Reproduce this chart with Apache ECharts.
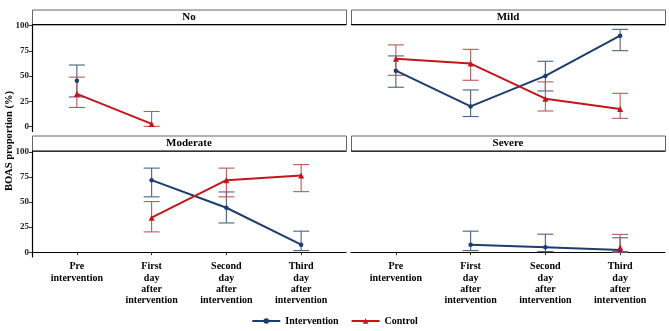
<!DOCTYPE html>
<html style="height: 100%">
<head>
    <meta charset="utf-8">
    <script src="https://cdn.jsdelivr.net/npm/echarts@6/dist/echarts.min.js"></script>
</head>
<body style="height: 100%; width: 100%; margin: 0; background-color: #ffffff;">
    <div id="container" style="width: 669px; height: 331px;"></div>
    <script type="text/javascript">
        // facets and categories
        var panels = ['No', 'Mild', 'Moderate', 'Severe'];
        var categories = ['Pre\nintervention', 'First\nday\nafter\nintervention', 'Second\nday\nafter\nintervention', 'Third\nday\nafter\nintervention'];
        var yTicks = [0, 25, 50, 75, 100];

        // one row per panel (No, Mild, Moderate, Severe), one column per category
        var interventionMean = [[45.5, null, null, null], [55.4, 20, 50.2, 90], [null, 72, 44.4, 7.5], [null, 7.5, 5, 2.3]];
        var interventionLow = [[29.4, null, null, null], [39, 10, 35.3, 75.2], [null, 55.3, 29.2, 1.6], [null, 1.6, 0.6, 0.6]];
        var interventionHigh = [[61, null, null, null], [70, 36.3, 64.7, 96.3], [null, 84, 60.2, 21], [null, 21, 18, 14.4]];

        var controlMean = [[32.4, 2.7, null, null], [67.3, 62.4, 27.7, 17.5], [null, 34.5, 72, 76.6], [null, null, null, 4.6]];
        var controlLow = [[19, 0.3, null, null], [50.8, 45.9, 15.5, 8.2], [null, 20.3, 55.3, 60.5], [null, null, null, 0]];
        var controlHigh = [[49, 15, null, null], [80.9, 76.5, 44.3, 33], [null, 50.6, 84, 87.5], [null, null, null, 17.8]];

        var blue = '#1c3d6e', red = '#c4141c';
        var blueBar = '#4a6282', redBar = '#b85a5a';
        var font = 'Liberation Serif';

        var cols = [32, 351];
        var panelW = 314;
        var rows = [{ top: 24.5, height: 107 }, { top: 151, height: 106 }];

        var dom = document.getElementById('container');
        var myChart = echarts.init(dom);

        var grids = [], xAxes = [], yAxes = [], series = [], graphics = [];

        function points(vals) {
            var arr = [];
            for (var i = 0; i < vals.length; i++) {
                if (vals[i] != null) arr.push([i + 1, vals[i]]);
            }
            return arr;
        }
        function bars(lo, hi) {
            var arr = [];
            for (var i = 0; i < lo.length; i++) {
                if (lo[i] != null) arr.push([i + 1, lo[i], hi[i]]);
            }
            return arr;
        }
        function errorBar(color) {
            return function (params, api) {
                var x = api.value(0);
                var p1 = api.coord([x, api.value(1)]);
                var p2 = api.coord([x, api.value(2)]);
                var hw = 8;
                var st = { stroke: color, lineWidth: 1.1 };
                return {
                    type: 'group',
                    children: [
                        { type: 'line', shape: { x1: p1[0], y1: p1[1], x2: p2[0], y2: p2[1] }, style: st },
                        { type: 'line', shape: { x1: p1[0] - hw, y1: p1[1], x2: p1[0] + hw, y2: p1[1] }, style: st },
                        { type: 'line', shape: { x1: p2[0] - hw, y1: p2[1], x2: p2[0] + hw, y2: p2[1] }, style: st }
                    ]
                };
            };
        }

        for (var p = 0; p < 4; p++) {
            var r = Math.floor(p / 2), c = p % 2;
            var isBottom = r === 1, isLeft = c === 0;
            grids.push({ left: cols[c], top: rows[r].top, width: panelW, height: rows[r].height });
            xAxes.push({
                gridIndex: p, type: 'value', min: 0.4, max: 4.6,
                show: isBottom,
                splitLine: { show: false },
                axisLine: { lineStyle: { color: '#000', width: 1.2 } },
                axisTick: { length: 3, customValues: [1, 2, 3, 4], lineStyle: { color: '#333' } },
                axisLabel: {
                    customValues: [1, 2, 3, 4],
                    formatter: function (v) { return categories[Math.round(v) - 1]; },
                    fontFamily: font, fontWeight: 'bold', fontSize: 10, color: '#000',
                    lineHeight: 11.4, margin: 4
                }
            });
            yAxes.push({
                gridIndex: p, type: 'value', min: -4.8, max: 101.1,
                show: isLeft,
                splitLine: { show: false },
                axisLine: { show: true, lineStyle: { color: '#000', width: 1.2 } },
                axisTick: { show: true, length: 3, customValues: yTicks, lineStyle: { color: '#333' } },
                axisLabel: {
                    customValues: yTicks,
                    fontFamily: font, fontWeight: 'bold', fontSize: 9, color: '#222', margin: 3
                }
            });

            series.push({
                type: 'custom', name: 'Intervention error', xAxisIndex: p, yAxisIndex: p,
                renderItem: errorBar(blueBar), encode: { x: 0, y: [1, 2] },
                data: bars(interventionLow[p], interventionHigh[p]), z: 2
            });
            series.push({
                type: 'custom', name: 'Control error', xAxisIndex: p, yAxisIndex: p,
                renderItem: errorBar(redBar), encode: { x: 0, y: [1, 2] },
                data: bars(controlLow[p], controlHigh[p]), z: 2
            });
            series.push({
                type: 'line', name: 'Intervention', xAxisIndex: p, yAxisIndex: p,
                data: points(interventionMean[p]),
                symbol: 'circle', symbolSize: 4.5, showAllSymbol: true,
                lineStyle: { color: blue, width: 2 }, itemStyle: { color: blue },
                z: 3
            });
            series.push({
                type: 'line', name: 'Control', xAxisIndex: p, yAxisIndex: p,
                data: points(controlMean[p]),
                symbol: 'triangle', symbolSize: 6, showAllSymbol: true,
                lineStyle: { color: red, width: 2 }, itemStyle: { color: red },
                z: 4
            });

            // facet strip
            var stripTop = r === 0 ? 9.5 : 135.5;
            var stripH = rows[r].top - stripTop;
            graphics.push({
                type: 'rect', left: cols[c], top: stripTop,
                shape: { width: panelW, height: stripH },
                style: { fill: '#fff', stroke: '#666', lineWidth: 1 }
            });
            graphics.push({
                type: 'line',
                shape: { x1: cols[c], y1: rows[r].top, x2: cols[c] + panelW, y2: rows[r].top },
                style: { stroke: '#000', lineWidth: 1.2 }
            });
            graphics.push({
                type: 'text', x: cols[c] + panelW / 2, y: stripTop + stripH / 2,
                style: {
                    text: panels[p], fontFamily: font, fontWeight: 'bold', fontSize: 11,
                    fill: '#000', align: 'center', verticalAlign: 'middle'
                }
            });
        }

        graphics.push({
            type: 'text', x: 9, y: 141, rotation: Math.PI / 2,
            style: {
                text: 'BOAS proportion (%)', fontFamily: font, fontWeight: 'bold', fontSize: 10.5,
                fill: '#000', align: 'center', verticalAlign: 'middle'
            }
        });

        var option = {
            animation: false,
            grid: grids,
            xAxis: xAxes,
            yAxis: yAxes,
            series: series,
            graphic: graphics,
            legend: {
                data: ['Intervention', 'Control'],
                top: 311, left: 'center',
                itemWidth: 28, itemHeight: 7, itemGap: 12,
                textStyle: { fontFamily: font, fontWeight: 'bold', fontSize: 10, color: '#000' }
            }
        };
        myChart.setOption(option, true);
    </script>
</body>
</html>
